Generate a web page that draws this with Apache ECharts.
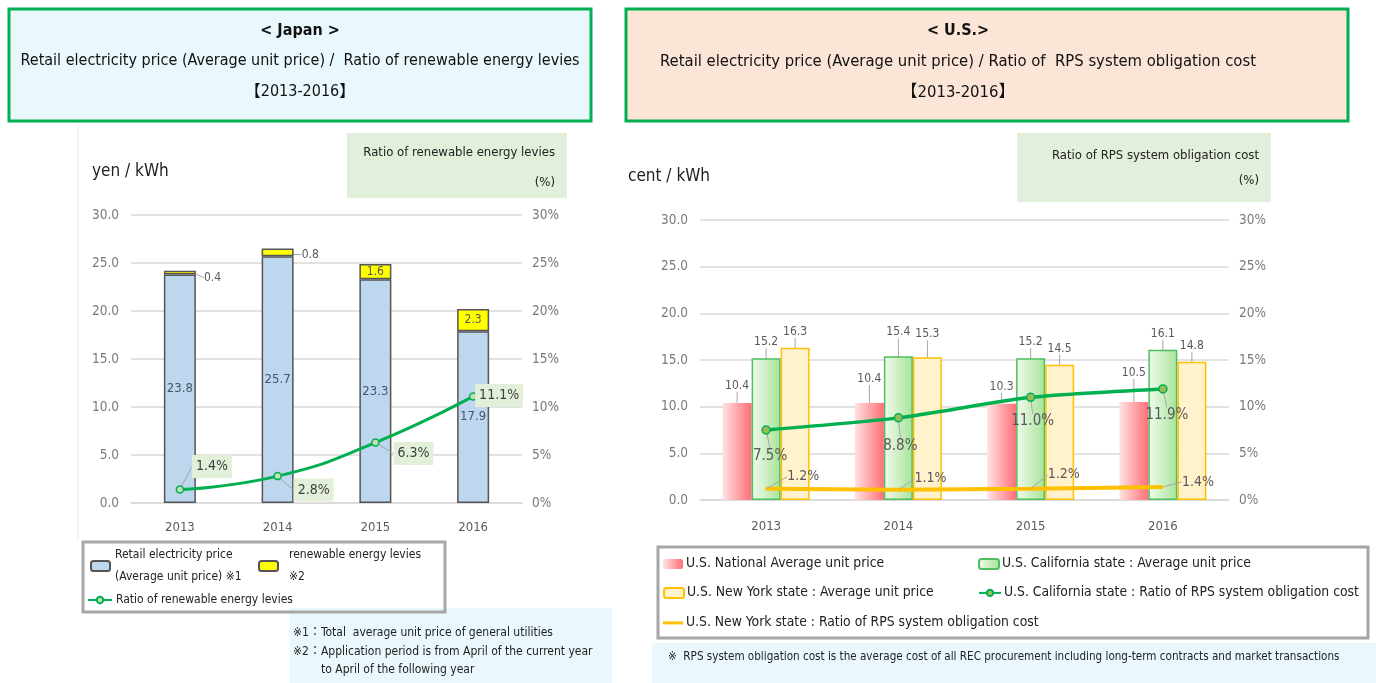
<!DOCTYPE html>
<html>
<head>
<meta charset="utf-8">
<script src="https://cdn.jsdelivr.net/npm/echarts@6/dist/echarts.min.js"></script>
<style>
  html, body { margin: 0; padding: 0; background: #ffffff; }
  #chart { width: 1376px; height: 683px; }
</style>
</head>
<body>
<div id="chart"></div>
<script>
// ---- Japan: retail price, levy and levy ratio ----
const years = ['2013', '2014', '2015', '2016'];
const jpPrice = [23.8, 25.7, 23.3, 17.9];
const jpLevy = [0.4, 0.8, 1.6, 2.3];
const jpRatio = [1.4, 2.8, 6.3, 11.1];

// ---- U.S.: average unit prices and RPS obligation cost ratio ----
const usNational = [10.4, 10.4, 10.3, 10.5];
const caPrice = [15.2, 15.4, 15.2, 16.1];
const nyPrice = [16.3, 15.3, 14.5, 14.8];
const caRatio = [7.5, 8.8, 11.0, 11.9];
const nyRatio = [1.2, 1.1, 1.2, 1.4];

// axis ticks (both panels share the same scale)
const priceTicks = { min: 0, max: 30, interval: 5 };
const ratioTicks = { min: 0, max: 30, interval: 5 };

const FONT = "'Liberation Sans Narrow', 'DejaVu Sans Condensed', 'Noto Sans CJK JP', sans-serif";
const AXIS_GRAY = '#7a7a7a';
const LABEL_GRAY = '#595959';

const N_JP_PRICE = 'Retail electricity price (Average unit price) ※1';
const N_JP_LEVY = 'renewable energy levies ※2';
const N_JP_RATIO = 'Ratio of renewable energy levies';
const N_US_NAT = 'U.S. National Average unit price';
const N_CA_PRICE = 'U.S. California state : Average unit price';
const N_NY_PRICE = 'U.S. New York state : Average unit price';
const N_CA_RATIO = 'U.S. California state : Ratio of RPS system obligation cost';
const N_NY_RATIO = 'U.S. New York state : Ratio of RPS system obligation cost';

const pct1 = p => p.value.toFixed(1) + '%';
const num1 = p => Number(p.value).toFixed(1);

// place a label relative to the centre of its symbol
function shiftFrom(offsets) {
  return function (p) {
    const o = offsets[p.dataIndex];
    if (!o) return {};
    return {
      x: p.rect.x + p.rect.width / 2 + o[0],
      y: p.rect.y + p.rect.height / 2 + o[1],
      align: 'center',
      verticalAlign: 'middle'
    };
  };
}

function text(x, y, str, opts) {
  return {
    type: 'text', x: x, y: y, silent: true,
    style: Object.assign({
      text: str, font: '16px ' + FONT, fill: '#111',
      textAlign: 'left', textVerticalAlign: 'middle'
    }, opts || {})
  };
}
function box(x, y, w, h, style) {
  return { type: 'rect', silent: true, shape: { x: x, y: y, width: w, height: h }, style: style };
}

const hGrad = (a, b) => new echarts.graphic.LinearGradient(0, 0, 1, 0, [
  { offset: 0, color: a }, { offset: 1, color: b }
]);

const catAxis = (gridIndex, margin) => ({
  type: 'category', gridIndex: gridIndex, data: years,
  axisLine: { lineStyle: { color: '#d9d9d9', width: 1.5 } },
  axisTick: { show: false },
  axisLabel: { color: LABEL_GRAY, fontSize: 13, fontFamily: FONT, margin: margin }
});
const priceAxis = (gridIndex) => Object.assign({
  type: 'value', gridIndex: gridIndex, position: 'left',
  axisLine: { show: false }, axisTick: { show: false },
  splitLine: { lineStyle: { color: '#d9d9d9', width: 1.5 } },
  axisLabel: { color: AXIS_GRAY, fontSize: 13.5, fontFamily: FONT, margin: 12, formatter: v => v.toFixed(1) }
}, priceTicks);
const ratioAxis = (gridIndex) => Object.assign({
  type: 'value', gridIndex: gridIndex, position: 'right',
  axisLine: { show: false }, axisTick: { show: false }, splitLine: { show: false },
  axisLabel: { color: AXIS_GRAY, fontSize: 13.5, fontFamily: FONT, margin: 10, formatter: '{value}%' }
}, ratioTicks);

const legendText = { color: '#222', fontFamily: FONT };
const usLegend = (left, top, data, w, h) => ({
  left: left, top: top, padding: 0, data: data, itemWidth: w, itemHeight: h,
  textStyle: Object.assign({ fontSize: 13.8, padding: [0, 0, 0, -2] }, legendText)
});

const option = {
  backgroundColor: '#ffffff',
  animation: false,
  textStyle: { fontFamily: FONT },
  grid: [
    { left: 131, top: 215, width: 391, height: 288, outerBoundsMode: 'none' },
    { left: 700, top: 220, width: 529, height: 280, outerBoundsMode: 'none' }
  ],
  xAxis: [catAxis(0, 18), catAxis(1, 20)],
  yAxis: [priceAxis(0), ratioAxis(0), priceAxis(1), ratioAxis(1)],
  legend: [
    {
      left: 90, top: 544, padding: 0, data: [N_JP_PRICE], itemWidth: 19, itemHeight: 10, icon: 'roundRect',
      formatter: () => 'Retail electricity price\n(Average unit price) ※1',
      textStyle: Object.assign({ fontSize: 12, lineHeight: 22 }, legendText)
    },
    {
      left: 258, top: 544, padding: 0, data: [N_JP_LEVY], itemWidth: 19, itemHeight: 10, icon: 'roundRect',
      formatter: () => 'renewable energy levies\n※2',
      textStyle: Object.assign({ fontSize: 12, lineHeight: 22, padding: [0, 0, 0, 6] }, legendText)
    },
    {
      left: 87, top: 594, padding: 0, data: [N_JP_RATIO], itemWidth: 24, itemHeight: 8,
      textStyle: Object.assign({ fontSize: 12, padding: [0, 0, 0, -1] }, legendText)
    },
    usLegend(663, 557, [N_US_NAT], 20, 10),
    usLegend(978, 557, [N_CA_PRICE], 20, 10),
    usLegend(663, 586, [N_NY_PRICE], 20, 10),
    usLegend(978, 586, [N_CA_RATIO], 22, 8),
    usLegend(663, 616, [{ name: N_NY_RATIO, icon: 'rect' }], 20, 3)
  ],
  graphic: [
    // title panels
    box(9, 9, 582, 112, { fill: '#e9f8fd', stroke: '#00b050', lineWidth: 3 }),
    text(300, 31, '< Japan >', { textAlign: 'center', font: 'bold 16px ' + FONT }),
    text(300, 61, 'Retail electricity price (Average unit price) /  Ratio of renewable energy levies', { textAlign: 'center', font: '16px ' + FONT }),
    text(300, 92, '【2013-2016】', { textAlign: 'center', font: '16px ' + FONT }),
    box(626, 9, 722, 112, { fill: '#fbe5d6', stroke: '#00b050', lineWidth: 3 }),
    text(958, 31, '< U.S.>', { textAlign: 'center', font: 'bold 16px ' + FONT }),
    text(958, 62, 'Retail electricity price (Average unit price) / Ratio of  RPS system obligation cost', { textAlign: 'center', font: '16.5px ' + FONT }),
    text(958, 93, '【2013-2016】', { textAlign: 'center', font: '16.5px ' + FONT }),

    // left panel edge
    { type: 'line', silent: true, shape: { x1: 78, y1: 124, x2: 78, y2: 541 }, style: { stroke: '#ececec', lineWidth: 1 } },

    // axis captions
    text(92, 172, 'yen / kWh', { font: '17px ' + FONT, fill: '#222' }),
    box(347, 133, 220, 65, { fill: '#e2efda' }),
    text(555, 153, 'Ratio of renewable energy levies', { textAlign: 'right', font: '13px ' + FONT, fill: '#222' }),
    text(555, 183, '(%)', { textAlign: 'right', font: '13px ' + FONT, fill: '#222' }),
    text(628, 177, 'cent / kWh', { font: '17px ' + FONT, fill: '#222' }),
    box(1017, 133, 254, 69, { fill: '#e2efda' }),
    text(1259, 156, 'Ratio of RPS system obligation cost', { textAlign: 'right', font: '13px ' + FONT, fill: '#222' }),
    text(1259, 181, '(%)', { textAlign: 'right', font: '13px ' + FONT, fill: '#222' }),

    // notes
    box(290, 608, 322, 75, { fill: '#eaf8fd' }),
    text(293, 633, '※1：Total  average unit price of general utilities', { font: '12px ' + FONT, fill: '#222' }),
    text(293, 652, '※2：Application period is from April of the current year', { font: '12px ' + FONT, fill: '#222' }),
    text(321, 670, 'to April of the following year', { font: '12px ' + FONT, fill: '#222' }),
    box(652, 643, 724, 40, { fill: '#eaf8fd' }),
    text(668, 657, '※  RPS system obligation cost is the average cost of all REC procurement including long-term contracts and market transactions', { font: '11.6px ' + FONT, fill: '#222' }),

    // legend frames
    box(83, 542, 362, 70, { fill: 'rgba(255,255,255,0)', stroke: '#a6a6a6', lineWidth: 3 }),
    box(658, 547, 710, 91, { fill: 'rgba(255,255,255,0)', stroke: '#a6a6a6', lineWidth: 3 })
  ],
  series: [
    // Japan
    {
      name: N_JP_PRICE, type: 'bar', xAxisIndex: 0, yAxisIndex: 0, stack: 'jp', barWidth: 32,
      data: jpPrice,
      itemStyle: { color: '#bdd7ee', borderColor: '#555', borderWidth: 1.5 },
      label: { show: true, position: 'inside', color: '#44546a', fontSize: 13, fontFamily: FONT, formatter: num1 }
    },
    {
      name: N_JP_LEVY, type: 'bar', xAxisIndex: 0, yAxisIndex: 0, stack: 'jp', barWidth: 32,
      data: jpLevy.map((v, i) => i < 2 ? { value: v, label: { position: 'right', distance: 4 } } : v),
      itemStyle: { color: '#ffff00', borderColor: '#555', borderWidth: 1.5 },
      label: { show: true, position: 'inside', color: '#595959', fontSize: 12, fontFamily: FONT, formatter: num1 },
      labelLayout: p => p.dataIndex < 2 ? { dx: 4, dy: p.dataIndex === 0 ? 5 : 2 } : {},
      labelLine: { show: true, lineStyle: { color: '#a6a6a6', width: 1 } }
    },
    {
      name: N_JP_RATIO, type: 'line', xAxisIndex: 0, yAxisIndex: 1, smooth: true,
      data: jpRatio,
      lineStyle: { color: '#00b050', width: 3 },
      symbol: 'circle', symbolSize: 7,
      itemStyle: { color: '#c5e0b4', borderColor: '#00b050', borderWidth: 1.5 },
      label: {
        show: true, formatter: pct1, color: '#404040', fontSize: 14, fontFamily: FONT,
        backgroundColor: '#e2f0d9', padding: [5, 4, 4, 4]
      },
      labelLayout: shiftFrom([[32, -23], [36, 14], [38, 11], [26, -1]]),
      labelLine: { show: true, lineStyle: { color: '#a6a6a6', width: 1 } }
    },

    // U.S.
    {
      name: N_US_NAT, type: 'bar', xAxisIndex: 1, yAxisIndex: 2, barWidth: 29, barGap: '0%',
      data: usNational,
      itemStyle: { color: hGrad('#ffe3e3', '#ff6e76') },
      label: { show: true, position: 'top', distance: 11, color: LABEL_GRAY, fontSize: 12, fontFamily: FONT, formatter: num1 },
      labelLayout: p => (p.dataIndex === 1 ? { dy: -7 } : p.dataIndex === 3 ? { dy: -12 } : {}),
      labelLine: { show: true, lineStyle: { color: '#a6a6a6', width: 1 } }
    },
    {
      name: N_CA_PRICE, type: 'bar', xAxisIndex: 1, yAxisIndex: 2, barWidth: 29, barGap: '0%',
      data: caPrice,
      itemStyle: { color: hGrad('#f1fbee', '#a8e399'), borderColor: '#4cbf5e', borderWidth: 1.5 },
      label: { show: true, position: 'top', distance: 10, color: LABEL_GRAY, fontSize: 12, fontFamily: FONT, formatter: num1 },
      labelLayout: p => (p.dataIndex === 1 ? { dy: -8 } : {}),
      labelLine: { show: true, lineStyle: { color: '#a6a6a6', width: 1 } }
    },
    {
      name: N_NY_PRICE, type: 'bar', xAxisIndex: 1, yAxisIndex: 2, barWidth: 29, barGap: '0%',
      data: nyPrice,
      itemStyle: { color: '#fff2cc', borderColor: '#ffc000', borderWidth: 1.5 },
      label: { show: true, position: 'top', distance: 10, color: LABEL_GRAY, fontSize: 12, fontFamily: FONT, formatter: num1 },
      labelLayout: p => (p.dataIndex === 1 ? { dy: -7 } : {}),
      labelLine: { show: true, lineStyle: { color: '#a6a6a6', width: 1 } }
    },
    {
      name: N_CA_RATIO, type: 'line', xAxisIndex: 1, yAxisIndex: 3, smooth: 0.2,
      data: caRatio,
      lineStyle: { color: '#00b050', width: 3.5 },
      symbol: 'circle', symbolSize: 8,
      itemStyle: { color: '#9bbb59', borderColor: '#00b050', borderWidth: 1.5 },
      label: { show: true, formatter: pct1, color: LABEL_GRAY, fontSize: 15, fontFamily: FONT },
      labelLayout: shiftFrom([[4, 26], [2, 28], [2, 24], [4, 26]]),
      labelLine: { show: true, lineStyle: { color: '#a6a6a6', width: 1 } }
    },
    {
      name: N_NY_RATIO, type: 'line', xAxisIndex: 1, yAxisIndex: 3,
      data: nyRatio,
      lineStyle: { color: '#ffc000', width: 4 },
      symbol: 'circle', symbolSize: 2, showSymbol: true,
      itemStyle: { color: '#ffc000' },
      label: { show: true, formatter: pct1, color: LABEL_GRAY, fontSize: 14, fontFamily: FONT },
      labelLayout: shiftFrom([[37, -12], [32, -11], [33, -14], [35, -5]]),
      labelLine: { show: true, lineStyle: { color: '#a6a6a6', width: 1 } }
    }
  ]
};

const chart = echarts.init(document.getElementById('chart'), null, { renderer: 'canvas' });
chart.setOption(option);
</script>
</body>
</html>
